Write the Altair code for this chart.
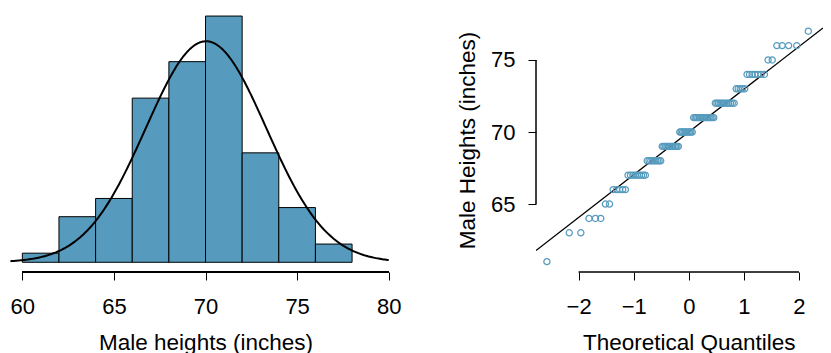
import altair as alt
import numpy as np
import pandas as pd
from statistics import NormalDist

# ---- data ----
height_values = [61, 63, 64, 65, 66, 67, 68, 69, 70, 71, 72, 73, 74, 75, 76, 77, 78]
height_counts = [1, 2, 3, 2, 5, 9, 9, 12, 10, 15, 12, 5, 7, 2, 4, 1, 1]
bin_edges = [60, 62, 64, 66, 68, 70, 72, 74, 76, 78]
hist_ticks = [60, 65, 70, 75, 80]
qq_x_ticks = [-2, -1, 0, 1, 2]
qq_y_ticks = [65, 70, 75]
curve_range = [59.35, 80]

BLUE = "#569BBD"
FONT = "Liberation Sans"
LFS = 22      # tick label size
TFS = 22.5    # title size

heights = np.repeat(height_values, height_counts)
n = len(heights)

# histogram (right-closed bins like R's hist)
cats = pd.cut(heights, bins=bin_edges, right=True)
cnt = pd.Series(cats).value_counts(sort=False).values
hist_df = pd.DataFrame({
    "bin_start": bin_edges[:-1],
    "bin_end": bin_edges[1:],
    "density": cnt / (n * (bin_edges[1] - bin_edges[0])),
    "zero": 0.0,
})

mean = heights.mean()
sd = heights.std(ddof=1)
nd = NormalDist(mean, sd)
xs = np.linspace(curve_range[0], curve_range[1], 300)
curve_df = pd.DataFrame({"x": xs, "dens": [nd.pdf(v) for v in xs]})

# QQ data
std = NormalDist()
theo = [std.inv_cdf((i - 0.5) / n) for i in range(1, n + 1)]
qq_df = pd.DataFrame({"q": theo, "h": np.sort(heights)})
q1, q3 = np.percentile(heights, [25, 75])
z1, z3 = std.inv_cdf(0.25), std.inv_cdf(0.75)
slope = (q3 - q1) / (z3 - z1)
intercept = q1 - slope * z1

H = 264
W1 = 394
W2 = 287

common = dict(domain=False, grid=False, tickSize=8, tickColor="black", tickWidth=1,
              labelFont=FONT, labelFontSize=LFS, labelColor="black", labelFlush=False,
              format="d", titleFont=FONT, titleFontSize=TFS, titleFontWeight="normal",
              titleColor="black")

# ---- left: histogram ----
hx_scale = alt.Scale(domain=[59.327, 80.835], nice=False, zero=False)
hy_scale = alt.Scale(domain=[-0.00532, 0.13942], nice=False, zero=False)
hx_axis = alt.Axis(values=hist_ticks, labelBaseline="alphabetic", labelPadding=33.7,
                   title="Male heights (inches)", titleBaseline="alphabetic",
                   titleY=77, titleX=195.5, titleAlign="center", **common)

bars = alt.Chart(hist_df).mark_rect(fill=BLUE, stroke="black", strokeWidth=1).encode(
    x=alt.X("bin_start:Q", scale=hx_scale, axis=hx_axis),
    x2="bin_end:Q",
    y=alt.Y("density:Q", scale=hy_scale, axis=None),
    y2="zero:Q",
)
curve = alt.Chart(curve_df).mark_line(color="black", strokeWidth=2, clip=True).encode(
    x=alt.X("x:Q", scale=hx_scale, axis=hx_axis),
    y=alt.Y("dens:Q", scale=hy_scale, axis=None),
)
haxis_line = alt.Chart(hist_df).mark_rule(color="black", strokeWidth=1).encode(
    x=alt.X(datum=hist_ticks[0], scale=hx_scale, axis=hx_axis),
    x2=alt.X2(datum=hist_ticks[-1]),
    y=alt.value(H),
)
left = alt.layer(bars, curve, haxis_line).properties(width=W1, height=H)

# ---- right: QQ plot ----
qx_scale = alt.Scale(domain=[-2.774, 2.4365], nice=False, zero=False)
qy_scale = alt.Scale(domain=[60.28, 78.61], nice=False, zero=False)
qx_axis = alt.Axis(values=qq_x_ticks, labelBaseline="alphabetic", labelPadding=33.7,
                   title="Theoretical Quantiles", titleBaseline="alphabetic",
                   titleY=77, titleX=152.8, titleAlign="center", **common)
qy_axis = alt.Axis(values=qq_y_ticks, labelPadding=13,
                   title="Male Heights (inches)", titleBaseline="alphabetic",
                   titleAngle=270, titleX=-62, titleY=132, titleAlign="center", **common)

pts = alt.Chart(qq_df).mark_point(shape="circle", filled=False, stroke=BLUE, strokeWidth=1.25,
                                  size=38, opacity=1, clip=True).encode(
    x=alt.X("q:Q", scale=qx_scale, axis=qx_axis),
    y=alt.Y("h:Q", scale=qy_scale, axis=qy_axis),
)
line_df = pd.DataFrame({"q": qx_scale.domain})
line_df["h"] = intercept + slope * line_df["q"]
qline = alt.Chart(line_df).mark_line(color="black", strokeWidth=1.3, clip=True).encode(
    x=alt.X("q:Q", scale=qx_scale, axis=qx_axis),
    y=alt.Y("h:Q", scale=qy_scale, axis=qy_axis),
)
qx_line = alt.Chart(line_df).mark_rule(color="black", strokeWidth=1).encode(
    x=alt.X(datum=qq_x_ticks[0], scale=qx_scale, axis=qx_axis),
    x2=alt.X2(datum=qq_x_ticks[-1]),
    y=alt.value(H),
)
qy_line = alt.Chart(line_df).mark_rule(color="black", strokeWidth=1).encode(
    y=alt.Y(datum=qq_y_ticks[0], scale=qy_scale, axis=qy_axis),
    y2=alt.Y2(datum=qq_y_ticks[-1]),
    x=alt.value(0),
)
right = alt.layer(qline, pts, qx_line, qy_line).properties(width=W2, height=H)

chart = alt.hconcat(left, right, spacing=132, bounds="flush").properties(
    padding={"left": 2, "top": 0, "right": 0, "bottom": 0},
    autosize=alt.AutoSizeParams(type="pad"),
).configure_view(stroke=None)

chart.save("out.html", embed_options={"renderer": "svg", "actions": False})
